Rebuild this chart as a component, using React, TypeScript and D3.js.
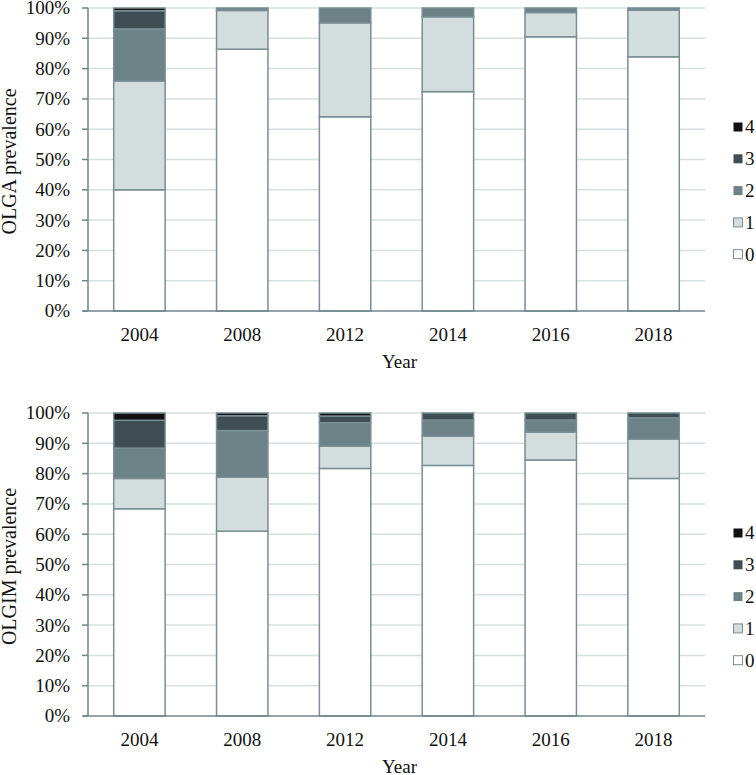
import React, { useEffect, useRef } from "react";
import * as d3 from "d3";

const years = ["2004", "2008", "2012", "2014", "2016", "2018"];
const stages = ["0", "1", "2", "3", "4"];
const yTicks = [0, 10, 20, 30, 40, 50, 60, 70, 80, 90, 100];

// OLGA stage percentages per year (stage 0..4)
const olgaStage0 = [40.0, 86.4, 64.1, 72.4, 90.5, 83.9];
const olgaStage1 = [35.9, 12.8, 31.0, 24.7, 8.0, 15.4];
const olgaStage2 = [17.2, 0.8, 4.9, 2.9, 1.5, 0.7];
const olgaStage3 = [6.0, 0, 0, 0, 0, 0];
const olgaStage4 = [0.9, 0, 0, 0, 0, 0];

// OLGIM stage percentages per year (stage 0..4)
const olgimStage0 = [68.4, 61.0, 81.7, 82.7, 84.5, 78.4];
const olgimStage1 = [10.0, 17.8, 7.4, 9.7, 9.2, 13.0];
const olgimStage2 = [10.0, 15.4, 7.7, 5.3, 4.0, 7.0];
const olgimStage3 = [9.2, 4.9, 2.2, 2.3, 2.3, 1.6];
const olgimStage4 = [2.4, 0.9, 1.0, 0, 0, 0];

const colors = ["#ffffff", "#d3dddd", "#6d8287", "#3f4e53", "#111111"];
const outline = "#7a8e93";
const gridColor = "#d6e0e0";
const axisColor = "#6f8489";
const font = "'Liberation Serif', 'Times New Roman', serif";

type Panel = {
  title: string;
  data: number[][];
  top: number;
  bottom: number;
  yearBaseline: number;
  titleBaseline: number;
  legendTop: number;
};

const panels: Panel[] = [
  {
    title: "OLGA prevalence",
    data: [olgaStage0, olgaStage1, olgaStage2, olgaStage3, olgaStage4],
    top: 8,
    bottom: 311,
    yearBaseline: 341,
    titleBaseline: 368,
    legendTop: 127,
  },
  {
    title: "OLGIM prevalence",
    data: [olgimStage0, olgimStage1, olgimStage2, olgimStage3, olgimStage4],
    top: 413,
    bottom: 716,
    yearBaseline: 746,
    titleBaseline: 773,
    legendTop: 533,
  },
];

export default function App() {
  const ref = useRef<SVGSVGElement>(null);

  useEffect(() => {
    const svg = d3.select(ref.current);
    svg.selectAll("*").remove();
    const left = 88;
    const right = 705;

    panels.forEach((p) => {
      const g = svg.append("g");
      const x = d3.scaleBand<string>().domain(years).range([left, right]).paddingInner(0.5).paddingOuter(0.25);
      const y = d3.scaleLinear().domain([0, 100]).range([p.bottom, p.top]);

      // gridlines
      g.selectAll(".grid")
        .data(yTicks.slice(1))
        .enter()
        .append("line")
        .attr("x1", left)
        .attr("x2", right)
        .attr("y1", (d) => y(d))
        .attr("y2", (d) => y(d))
        .attr("stroke", gridColor)
        .attr("stroke-width", 1.5);

      // stacked bars
      const rows = years.map((yr, i) => {
        const r: any = { year: yr };
        stages.forEach((s, k) => (r[s] = p.data[k][i]));
        return r;
      });
      const series = d3.stack<any>().keys(stages)(rows);
      series.forEach((s, k) => {
        g.selectAll(".bar" + k)
          .data(s.filter((d) => d[1] - d[0] > 0))
          .enter()
          .append("rect")
          .attr("x", (d) => x(d.data.year)!)
          .attr("width", x.bandwidth())
          .attr("y", (d) => y(Math.min(d[1], 100)))
          .attr("height", (d) => y(d[0]) - y(Math.min(d[1], 100)))
          .attr("fill", colors[k])
          .attr("stroke", outline)
          .attr("stroke-width", 1.5);
      });

      // axes
      g.append("line")
        .attr("x1", 83)
        .attr("x2", right)
        .attr("y1", y(0))
        .attr("y2", y(0))
        .attr("stroke", axisColor)
        .attr("stroke-width", 1.5);
      g.append("line")
        .attr("x1", left)
        .attr("x2", left)
        .attr("y1", y(0))
        .attr("y2", y(100))
        .attr("stroke", axisColor)
        .attr("stroke-width", 1.5);
      g.selectAll(".tick")
        .data(yTicks)
        .enter()
        .append("line")
        .attr("x1", 82)
        .attr("x2", left)
        .attr("y1", (d) => y(d))
        .attr("y2", (d) => y(d))
        .attr("stroke", axisColor)
        .attr("stroke-width", 1.5);
      g.selectAll(".tl")
        .data(yTicks)
        .enter()
        .append("text")
        .attr("x", 70)
        .attr("y", (d) => y(d))
        .attr("dy", "0.34em")
        .attr("text-anchor", "end")
        .attr("font-family", font)
        .attr("font-size", 19)
        .attr("fill", "#111")
        .text((d) => d + "%");

      g.selectAll(".xl")
        .data(years)
        .enter()
        .append("text")
        .attr("x", (d) => x(d)! + x.bandwidth() / 2)
        .attr("y", p.yearBaseline)
        .attr("text-anchor", "middle")
        .attr("font-family", font)
        .attr("font-size", 19)
        .attr("fill", "#111")
        .text((d) => d);

      g.append("text")
        .attr("x", (left + right) / 2 + 3)
        .attr("y", p.titleBaseline)
        .attr("text-anchor", "middle")
        .attr("font-family", font)
        .attr("font-size", 19)
        .attr("fill", "#111")
        .text("Year");

      g.append("text")
        .attr("transform", `translate(16,${(p.top + p.bottom) / 2 + 2}) rotate(-90)`)
        .attr("text-anchor", "middle")
        .attr("font-family", font)
        .attr("font-size", 20)
        .attr("fill", "#111")
        .text(p.title);

      // legend (4 at top down to 0)
      const legendOrder = stages.slice().reverse();
      legendOrder.forEach((s, i) => {
        const k = +s;
        const cy = p.legendTop + i * 31.8;
        g.append("rect")
          .attr("x", 733.5)
          .attr("y", cy - 4.5)
          .attr("width", 9)
          .attr("height", 9)
          .attr("fill", colors[k])
          .attr("stroke", k <= 1 ? outline : "none")
          .attr("stroke-width", 1);
        g.append("text")
          .attr("x", 745)
          .attr("y", cy)
          .attr("dy", "0.34em")
          .attr("font-family", font)
          .attr("font-size", 19)
          .attr("fill", "#111")
          .text(s);
      });
    });
  }, []);

  return (
    <svg
      ref={ref}
      width={756}
      height={775}
      style={{ position: "absolute", left: 0, top: 0, background: "#fff" }}
    />
  );
}
